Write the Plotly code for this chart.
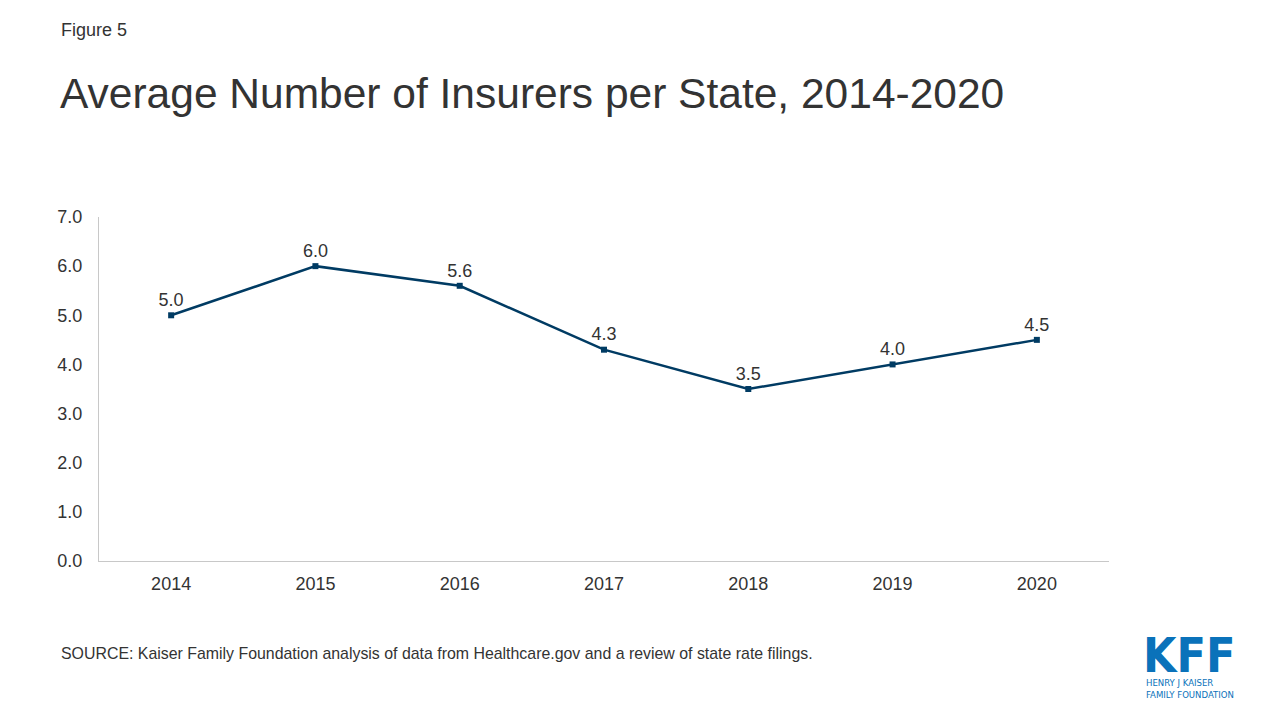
import plotly.graph_objects as go

years = ["2014", "2015", "2016", "2017", "2018", "2019", "2020"]
insurers = [5.0, 6.0, 5.6, 4.3, 3.5, 4.0, 4.5]
y_ticks = [0, 1, 2, 3, 4, 5, 6, 7]

FONT = "Liberation Sans, Arial, sans-serif"
LINE = "#003b63"
GRAY = "#333333"
BLUE = "#0a72ba"
LOGO_FONT = "DejaVu Sans Condensed, Liberation Sans Narrow, sans-serif"

L, R, T, B = 99, 171, 217, 159
PW, PH = 1280 - L - R, 720 - T - B


def px_to_paper(x, y):
    return (x - L) / PW, (720 - B - y) / PH


fig = go.Figure()
fig.add_trace(go.Scatter(
    x=years, y=insurers, mode="lines+markers+text",
    line=dict(color=LINE, width=2.5),
    marker=dict(symbol="square", size=6, color=LINE),
    text=[f"{v:.1f}" for v in insurers],
    textposition="top center",
    textfont=dict(family=FONT, size=18, color=GRAY),
    cliponaxis=False, hoverinfo="skip",
))

fig.update_layout(
    width=1280, height=720,
    paper_bgcolor="white", plot_bgcolor="white",
    margin=dict(l=L, r=R, t=T, b=B),
    showlegend=False,
    font=dict(family=FONT, color=GRAY),
    xaxis=dict(
        type="category", range=[-0.5, 6.5],
        showgrid=False, showline=True, linecolor="#c8c8c8", linewidth=1,
        ticks="", tickfont=dict(size=18, color=GRAY),
        ticklabelstandoff=6, zeroline=False,
    ),
    yaxis=dict(
        range=[0, 7], tickvals=y_ticks,
        ticktext=[f"{v:.1f}" for v in y_ticks],
        showgrid=False, showline=True, linecolor="#c8c8c8", linewidth=1,
        ticks="", tickfont=dict(size=18, color=GRAY),
        ticklabelstandoff=12, zeroline=False,
    ),
)

texts = [
    dict(text="Figure 5", x=59, y=30, size=18),
    dict(text="Average Number of Insurers per State, 2014-2020", x=58, y=93, size=42.5),
    dict(text="SOURCE: Kaiser Family Foundation analysis of data from Healthcare.gov and a review of state rate filings.",
         x=59, y=653, size=15.9),
]
for a in texts:
    ax, ay = px_to_paper(a["x"], a["y"])
    fig.add_annotation(text=a["text"], xref="paper", yref="paper", x=ax, y=ay,
                       xanchor="left", yanchor="middle", showarrow=False,
                       font=dict(size=a["size"], color=GRAY, family=FONT))

# KFF logo as text
lx, ly = px_to_paper(1189, 655)
fig.add_annotation(text="<b>KFF</b>", xref="paper", yref="paper", x=lx, y=ly,
                   xanchor="center", yanchor="middle", showarrow=False, borderpad=0,
                   font=dict(size=48, color=BLUE, family=LOGO_FONT))
tx, ty = px_to_paper(1145, 688)
fig.add_annotation(text="HENRY J KAISER<br>FAMILY FOUNDATION", xref="paper", yref="paper",
                   x=tx, y=ty, xanchor="left", yanchor="middle", align="left",
                   showarrow=False, borderpad=0,
                   font=dict(size=9.5, color=BLUE, family=LOGO_FONT))

fig.write_html("out.html", config={"displayModeBar": False},
               post_script="document.body.style.margin='0';")
